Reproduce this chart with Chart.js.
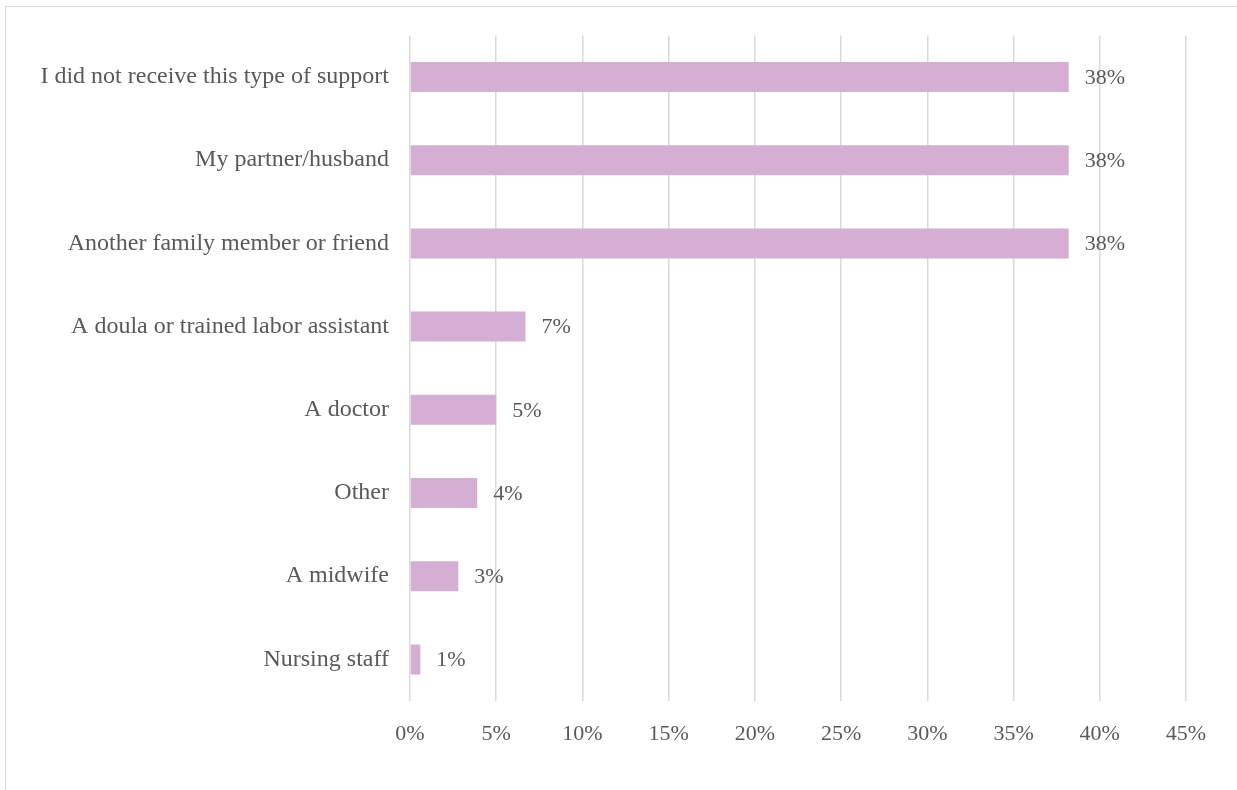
<!DOCTYPE html>
<html>
<head>
<meta charset="utf-8">
<script src="https://cdn.jsdelivr.net/npm/chart.js@4/dist/chart.umd.min.js"></script>
<style>
  html, body { margin: 0; padding: 0; background: #ffffff; overflow: hidden; }
  #frame {
    position: absolute; left: 5px; top: 6px;
    width: 1400px; height: 1000px;
    border: 1.5px solid #d9d9d9;
  }
  #wrap { position: absolute; left: 0; top: 0; width: 1237px; height: 790px; }
</style>
</head>
<body>
<div id="frame"></div>
<div id="wrap"><canvas id="chart" width="1237" height="790"></canvas></div>
<script>
// Who provided support during labor (share of respondents, %)
const categories = [
  'I did not receive this type of support',
  'My partner/husband',
  'Another family member or friend',
  'A doula or trained labor assistant',
  'A doctor',
  'Other',
  'A midwife',
  'Nursing staff'
];
const shares = [38.2, 38.2, 38.2, 6.7, 5.0, 3.9, 2.8, 0.6];
const xTicks = [0, 5, 10, 15, 20, 25, 30, 35, 40, 45];

const FONT = "'Liberation Serif', 'Times New Roman', serif";
const TEXT = '#595959';

// Percentage labels drawn just past the end of each bar
const valueLabels = {
  id: 'valueLabels',
  afterDatasetsDraw(chart) {
    const ctx = chart.ctx;
    const meta = chart.getDatasetMeta(0);
    ctx.save();
    ctx.font = '22px ' + FONT;
    ctx.fillStyle = TEXT;
    ctx.textAlign = 'left';
    ctx.textBaseline = 'middle';
    meta.data.forEach((bar, i) => {
      ctx.fillText(Math.round(shares[i]) + '%', bar.x + 16, bar.y + 1);
    });
    ctx.restore();
  }
};

new Chart(document.getElementById('chart'), {
  type: 'bar',
  data: {
    labels: categories,
    datasets: [{
      data: shares,
      backgroundColor: '#d4aed3',
      borderWidth: 0,
      barPercentage: 0.36,
      categoryPercentage: 1.0
    }]
  },
  options: {
    indexAxis: 'y',
    responsive: false,
    animation: false,
    devicePixelRatio: 1,
    layout: { padding: { top: 35, right: 51, left: 0, bottom: 0 } },
    plugins: { legend: { display: false }, tooltip: { enabled: false } },
    scales: {
      x: {
        min: 0, max: 45,
        afterBuildTicks(scale) { scale.ticks = xTicks.map(v => ({ value: v })); },
        afterFit(scale) { scale.height = 790 - 701; },
        ticks: {
          callback: v => v + '%',
          color: TEXT,
          font: { family: FONT, size: 22 },
          padding: 20,
          maxRotation: 0
        },
        grid: { color: '#d9d9d9', lineWidth: 1.5, drawTicks: false },
        border: { display: false }
      },
      y: {
        afterFit(scale) { scale.width = 410; },
        ticks: {
          color: TEXT,
          font: { family: FONT, size: 24 },
          padding: 21
        },
        grid: { display: false, drawTicks: false },
        border: { display: false }
      }
    }
  },
  plugins: [valueLabels]
});
</script>
</body>
</html>
